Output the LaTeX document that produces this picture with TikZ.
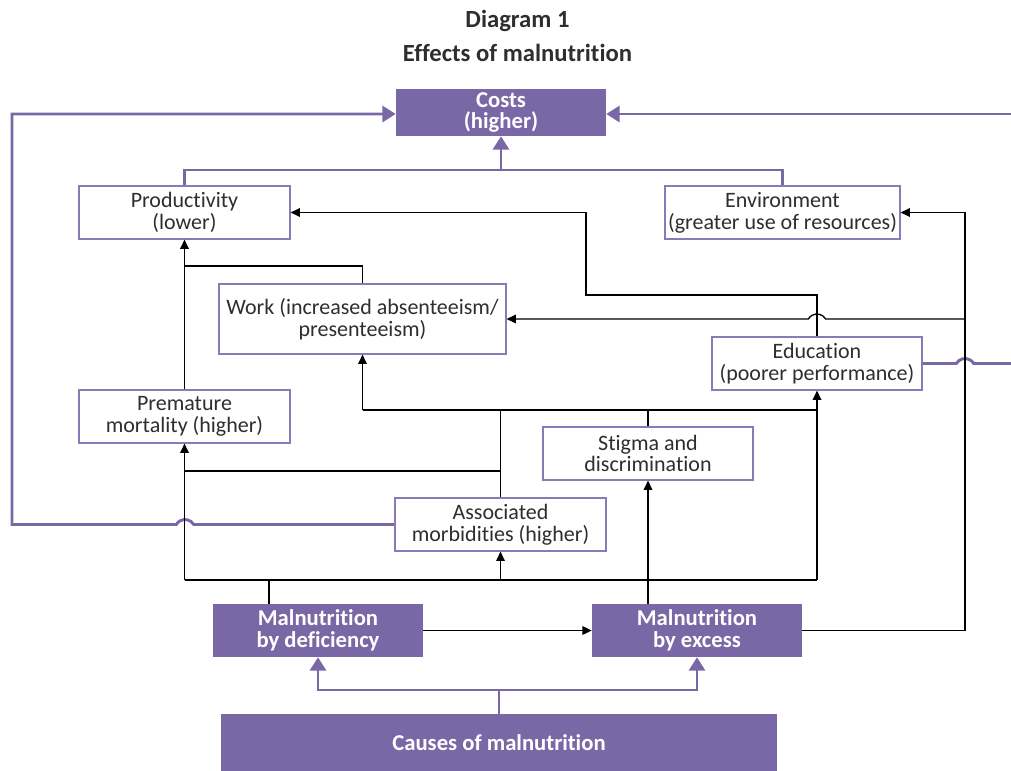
\documentclass[tikz,border=0pt]{standalone}
\usepackage{fontspec}
\setmainfont[Ligatures=NoCommon]{Carlito}
\usetikzlibrary{arrows.meta,calc}
\definecolor{vio}{HTML}{7A68A6}
\definecolor{violine}{HTML}{8A7BB8}
\definecolor{txt}{HTML}{2E2E2E}
\begin{document}
\begin{tikzpicture}[x=0.75pt,y=-0.75pt,
 wbox/.style={draw=violine,line width=0.9pt,fill=white,inner sep=0pt,align=center,text=txt,
   font=\fontsize{16.5}{16.3}\selectfont,minimum height=39.75pt},
 pbox/.style={fill=vio,inner sep=0pt,align=center,text=white,
   font=\fontsize{17}{16.3}\selectfont\bfseries,minimum height=39.75pt},
 titlefont/.style={font=\fontsize{18.5}{22}\selectfont\bfseries,text=txt,inner sep=0pt},
 pl/.style={draw=vio,line width=2.2pt},
 pla/.style={pl,-{Triangle[length=10pt,width=12pt]}},
 bl/.style={draw=black,line width=1pt},
 bla/.style={bl,-{Triangle[length=7pt,width=6.5pt]}},
]
\useasboundingbox (0,0) rectangle (1011,771);

% titles
\node[titlefont] (t1) at (517.5,21) {Diagram 1};
\node[titlefont] (t2) at (517.5,53) {Effects of malnutrition};

% boxes
\node[pbox,minimum width=157.5pt,minimum height=35.25pt] (costs) at (501,112.5) {Costs\\(higher)};
\node[wbox,minimum width=158.25pt] (prod) at (184.5,212.5) {Productivity\\(lower)};
\node[wbox,minimum width=176.25pt] (env) at (782.5,212.5) {Environment\\(greater use of resources)};
\node[wbox,minimum width=215.25pt,minimum height=52.5pt] (work) at (362.5,319) {Work (increased absenteeism/\\presenteeism)};
\node[wbox,minimum width=157.5pt] (edu) at (817,363.5) {Education\\(poorer performance)};
\node[wbox,minimum width=158.25pt] (prem) at (184.5,416.5) {Premature\\mortality (higher)};
\node[wbox,minimum width=157.5pt] (stig) at (648,453.5) {Stigma and\\discrimination};
\node[wbox,minimum width=158.25pt] (assoc) at (500.5,524.5) {Associated\\morbidities (higher)};
\node[pbox,minimum width=157.5pt] (def) at (318,630.5) {Malnutrition\\by deficiency};
\node[pbox,minimum width=157.5pt] (exc) at (697,630.5) {Malnutrition\\by excess};
\node[pbox,minimum width=417pt,minimum height=42.75pt] (causes) at (499,742.5) {Causes of malnutrition};

% free ends and junctions
\coordinate (rin) at (1011,114);
\coordinate (rout) at (1011,363.5);
\coordinate (pe) at (501,170);
\coordinate (cj) at (499,690);

% purple connectors
\draw[pla] (assoc.west) -- (193.66,524.5) arc[start angle=30,end angle=150,radius=7.5pt]
  -- (12,524.5) -- (12,114) -- (costs.west |- rin);
\draw[pla] (rin) -- (costs.east |- rin);
\draw[pl] (edu.east) -- (956.34,363.5) arc[start angle=150,end angle=30,radius=7.5pt] -- (rout);
\draw[pl] (prod.north) |- (pe) -| (env.north);
\draw[pla] (pe) -- (costs.south);
\draw[pl] (causes.north) -- (cj);
\draw[pla] (cj) -| (def.south);
\draw[pla] (cj) -| (exc.south);

% black connectors
\draw[bla] (prem.north) -- (prod.south);
\draw[bl] (work.north) |- (184.5,266);
\draw[bla] (edu.north) |- (586,295) |- (prod.east);
\draw[bla] (exc.east) -- (965,630.5) |- (env.east);
\draw[bla] (965,319) -- (825.66,319) arc[start angle=30,end angle=150,radius=7.5pt] -- (work.east);
\draw[bl] ($(def.north)+(-49,0)$) -- (269,580);
\draw[bla] (184.5,580) -- (prem.south);
\draw[bl] (184.5,580) -- (817,580);
\draw[bla] (500.5,580) -- (assoc.south);
\draw[bla] (817,580) -- (edu.south);
\draw[bla] ($(exc.north)+(-49,0)$) -- (stig.south);
\draw[bl] (assoc.north) -- (500.5,410);
\draw[bl] (184.5,471) -- (500.5,471);
\draw[bla] (362.5,410) -- (work.south);
\draw[bl] (362.5,410) -- (817,410);
\draw[bl] (stig.north) -- (648,410);
\draw[bla] (def.east) -- (exc.west);
\end{tikzpicture}
\end{document}
